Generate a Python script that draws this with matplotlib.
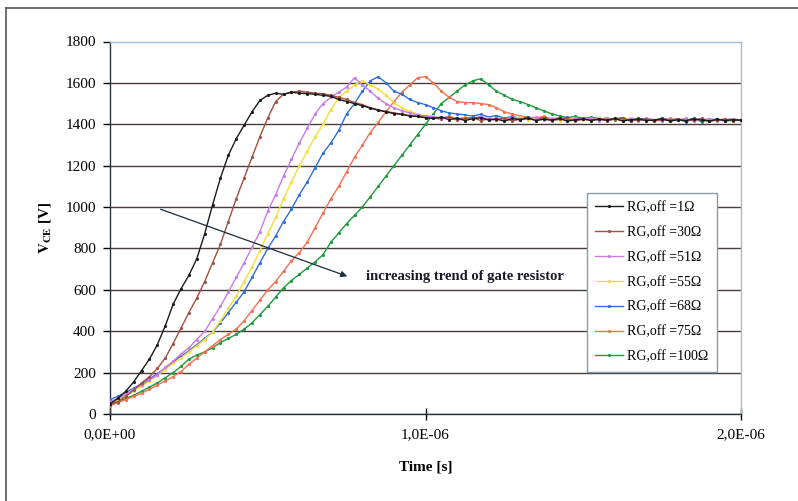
import matplotlib
matplotlib.use("Agg")
import matplotlib.pyplot as plt
from matplotlib.lines import Line2D
import numpy as np

plt.rcParams["font.family"] = ["Liberation Serif", "DejaVu Serif"]
plt.rcParams["mathtext.fontset"] = "stix"

# time grid, microseconds (0 .. 2.0 in 0.025 steps)
time_us = np.round(np.arange(0, 81) * 0.025, 3)

# V_CE readings [V] for each gate resistor
v_1 = [50, 75, 110, 155, 210, 265, 335, 425, 530, 605,
       670, 750, 870, 1010, 1140, 1250, 1330, 1395, 1460, 1515,
       1540, 1550, 1545, 1555, 1550, 1548, 1545, 1540, 1535, 1520,
       1510, 1500, 1490, 1478, 1468, 1460, 1452, 1448, 1440, 1438,
       1432,
       1428, 1435, 1422, 1430, 1418, 1427, 1432, 1420, 1425, 1415,
       1428, 1422, 1430, 1418, 1424, 1420, 1428, 1415, 1422, 1426,
       1418, 1425, 1420, 1428, 1416, 1422, 1425, 1418, 1420, 1427,
       1415, 1422, 1418, 1425, 1420, 1416, 1424, 1418, 1422, 1420]
v_30 = [45, 60, 85, 115, 150, 180, 220, 270, 340, 415,
        490, 560, 640, 730, 820, 930, 1040, 1140, 1240, 1340,
        1430, 1510, 1545, 1555, 1560, 1555, 1550, 1548, 1540, 1530,
        1520, 1505, 1495, 1480, 1470, 1462, 1455, 1448, 1442, 1438,
        1432,
        1430, 1425, 1436, 1420, 1428, 1432, 1418, 1426, 1422, 1430,
        1416, 1425, 1428, 1420, 1432, 1418, 1424, 1428, 1415, 1425,
        1420, 1427, 1418, 1424, 1430, 1416, 1422, 1426, 1415, 1423,
        1420, 1425, 1417, 1422, 1428, 1415, 1420, 1424, 1418, 1421]
v_51 = [60, 75, 95, 120, 140, 165, 190, 225, 255, 290,
        320, 360, 400, 460, 520, 590, 660, 730, 805, 880,
        980, 1060, 1150, 1230, 1310, 1380, 1450, 1500, 1530, 1555,
        1580, 1625, 1590, 1560, 1525, 1500, 1480, 1465, 1455, 1445,
        1440,
        1435, 1430, 1440, 1425, 1432, 1428, 1438, 1422, 1430, 1425,
        1433, 1420, 1428, 1435, 1422, 1426, 1430, 1418, 1428, 1424,
        1432, 1418, 1425, 1428, 1420, 1426, 1416, 1428, 1422, 1418,
        1425, 1420, 1428, 1415, 1422, 1426, 1418, 1420, 1425, 1418]
v_55 = [55, 70, 90, 110, 135, 160, 185, 215, 245, 270,
        300, 330, 360, 395, 450, 510, 570, 640, 710, 790,
        870, 950, 1040, 1120, 1200, 1270, 1340, 1400, 1470, 1530,
        1560, 1590, 1610, 1590, 1570, 1540, 1505, 1480, 1462, 1450,
        1442,
        1438, 1430, 1436, 1428, 1434, 1425, 1432, 1428, 1422, 1430,
        1426, 1435, 1420, 1428, 1424, 1432, 1418, 1426, 1430, 1420,
        1425, 1428, 1418, 1426, 1422, 1430, 1416, 1424, 1420, 1427,
        1418, 1422, 1426, 1415, 1424, 1420, 1418, 1425, 1416, 1422]
v_68 = [70, 85, 105, 125, 145, 170, 195, 220, 250, 280,
        305, 335, 365, 395, 440, 490, 540, 590, 660, 730,
        800, 860, 930, 990, 1060, 1120, 1190, 1260, 1310, 1370,
        1450, 1500, 1560, 1610, 1630, 1600, 1560, 1545, 1520, 1505,
        1495,
        1480, 1465, 1455, 1450, 1445, 1440, 1448, 1435, 1442, 1430,
        1438, 1428, 1435, 1425, 1432, 1428, 1422, 1434, 1420, 1428,
        1425, 1430, 1418, 1426, 1432, 1415, 1428, 1422, 1418, 1430,
        1420, 1425, 1412, 1428, 1418, 1422, 1425, 1415, 1420, 1423]
v_75 = [40, 55, 70, 85, 100, 120, 140, 160, 180, 205,
        240, 270, 300, 330, 360, 385, 410, 450, 500, 550,
        600, 640, 690, 740, 780, 830, 900, 970, 1040, 1100,
        1170, 1240, 1300, 1360, 1410, 1460, 1510, 1555, 1590, 1625,
        1630,
        1600, 1560, 1530, 1510, 1505, 1505, 1500, 1495, 1480, 1460,
        1450, 1440, 1435, 1430, 1438, 1425, 1432, 1428, 1422, 1430,
        1425, 1420, 1428, 1424, 1418, 1430, 1420, 1426, 1422, 1416,
        1428, 1420, 1424, 1418, 1426, 1415, 1422, 1425, 1418, 1420]
v_100 = [50, 60, 75, 90, 110, 130, 150, 175, 200, 230,
         265, 285, 300, 320, 345, 365, 385, 410, 440, 480,
         520, 565, 610, 645, 675, 705, 735, 770, 830, 875,
         920, 960, 1000, 1050, 1100, 1150, 1200, 1250, 1300, 1350,
         1400,
         1450, 1500, 1530, 1560, 1590, 1610, 1620, 1590, 1560, 1540,
         1520, 1510, 1495, 1480, 1465, 1450, 1440, 1432, 1438, 1428,
         1435, 1425, 1430, 1422, 1432, 1418, 1428, 1424, 1420, 1430,
         1416, 1425, 1420, 1428, 1412, 1424, 1418, 1422, 1426, 1420]

series = [v_1, v_30, v_51, v_55, v_68, v_75, v_100]
labels = ["RG,off =1Ω", "RG,off =30Ω", "RG,off =51Ω", "RG,off =55Ω",
          "RG,off =68Ω", "RG,off =75Ω", "RG,off =100Ω"]
colors = ["#1c1c1c", "#a0503e", "#c97be6", "#f2de3a",
          "#2f6fd8", "#f07050", "#1f9a3c"]

x_ticks = [0, 1e-6, 2e-6]
x_tick_labels = ["0,0E+00", "1,0E-06", "2,0E-06"]
y_ticks = [0, 200, 400, 600, 800, 1000, 1200, 1400, 1600, 1800]

fig = plt.figure(figsize=(7.98, 5.01), dpi=100)
ax = fig.add_axes([110 / 798, 1 - 414 / 501, 631 / 798, 372.5 / 501])

t_s = time_us * 1e-6
handles = []
for i in range(len(series) - 1, -1, -1):
    h, = ax.plot(t_s, series[i], color=colors[i], lw=1.0,
                 marker=".", ms=2.5, label=labels[i], zorder=3 + (6 - i))
    handles.insert(0, h)

ax.set_xlim(0, 2e-6)
ax.set_ylim(0, 1800)
ax.set_xticks(x_ticks)
ax.set_xticklabels(x_tick_labels)
ax.set_yticks(y_ticks)
ax.tick_params(axis="x", direction="inout", length=8, width=1, labelsize=11, pad=6)
ax.tick_params(axis="y", direction="out", length=5, width=1, labelsize=11, pad=5)

ax.yaxis.grid(True, color="#4a3c3c", lw=1.0)
ax.get_ygridlines()[-1].set_visible(False)
ax.set_axisbelow(True)

for s in ["top", "right"]:
    ax.spines[s].set_color("#a8bccc")
    ax.spines[s].set_linewidth(1.0)
for s in ["left", "bottom"]:
    ax.spines[s].set_color("#2a3440")
    ax.spines[s].set_linewidth(1.0)

ax.set_xlabel("Time [s]", fontsize=11, fontweight="bold", labelpad=14)
ax.set_ylabel(r"$\mathbf{V_{CE}}$ [V]", fontsize=11, fontweight="bold", labelpad=9)

# trend arrow
ax.annotate("", xy=(0.76e-6, 661), xytext=(0.152e-6, 994),
            arrowprops=dict(arrowstyle="-|>", color="#1a2a3a", lw=0.9,
                            mutation_scale=9), zorder=10)
ax.text(0.81e-6, 666, "increasing trend of gate resistor", fontsize=10.5,
        fontweight="bold", va="center", ha="left", color="#1a1a2a", zorder=10)

leg = ax.legend(handles=handles, loc="upper left",
                bbox_to_anchor=(587 / 798, 1 - 193 / 501),
                bbox_transform=fig.transFigure, borderaxespad=0,
                fontsize=10, labelspacing=0.85, handlelength=2.0,
                handletextpad=0.3, borderpad=0.6, fancybox=False,
                framealpha=1, edgecolor="#8a9aa8")
leg.get_frame().set_linewidth(1.0)

# outer frame (top and left edges)
fig.add_artist(Line2D([6 / 798, 6 / 798], [0, 1 - 8 / 501],
                      transform=fig.transFigure, color="#555555", lw=1.2))
fig.add_artist(Line2D([6 / 798, 1], [1 - 8 / 501, 1 - 8 / 501],
                      transform=fig.transFigure, color="#555555", lw=1.2))

fig.savefig("out.png", dpi=100)
